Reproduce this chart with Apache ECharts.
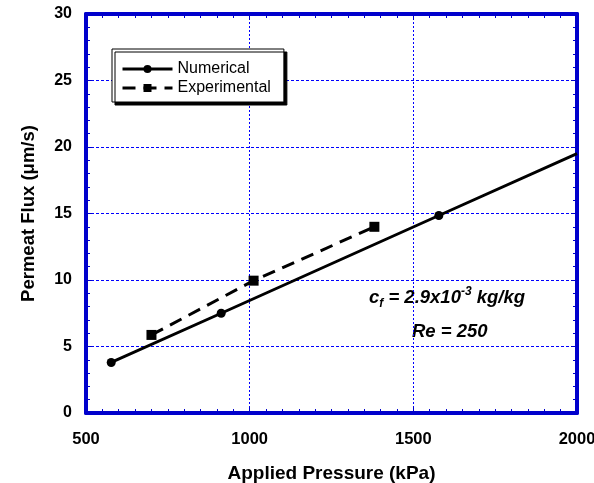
<!DOCTYPE html>
<html>
<head>
<meta charset="utf-8">
<script src="https://cdn.jsdelivr.net/npm/echarts@6/dist/echarts.min.js"></script>
<style>
  html, body { margin: 0; padding: 0; background: #fff; }
  #chart { width: 594px; height: 483px; }
</style>
</head>
<body>
<div id="chart"></div>
<script>
// Permeate flux versus applied pressure
const numericalPressure = [577, 913, 1578, 2000];
const numericalFlux = [3.8, 7.5, 14.85, 19.5];
const experimentalPressure = [700, 1012, 1381];
const experimentalFlux = [5.87, 9.95, 14.0];

const FRAME = '#0000cc';
const GRID = '#0000ff';
const FONT = '"Liberation Sans", Arial, sans-serif';

const chart = echarts.init(document.getElementById('chart'));

const numericalData = numericalPressure.map((p, i) => {
  const pt = { value: [p, numericalFlux[i]] };
  // last point only carries the line out to the frame edge
  if (i === numericalPressure.length - 1) pt.symbol = 'none';
  return pt;
});
const experimentalData = experimentalPressure.map((p, i) => [p, experimentalFlux[i]]);

// unlabeled top/right axes that close the frame and carry inward ticks
const frameAxis = (pos, min, max, interval, minorSplit) => ({
  type: 'value',
  position: pos,
  min, max, interval,
  axisLine: { show: true, onZero: false, lineStyle: { color: FRAME, width: 4 } },
  axisTick: { show: true, inside: true, length: 6, lineStyle: { color: FRAME, width: 1 } },
  minorTick: { show: true, splitNumber: minorSplit, length: 4, lineStyle: { color: FRAME, width: 1 } },
  splitLine: { show: false },
  axisLabel: { show: false }
});

chart.setOption({
  animation: false,
  backgroundColor: '#fff',
  grid: { left: 86, right: 17, top: 14, bottom: 70, outerBoundsMode: 'none', containLabel: false },
  legend: {
    orient: 'vertical',
    left: 112, top: 49,
    padding: [12, 13, 6, 9],
    itemGap: 3,
    itemWidth: 50,
    itemHeight: 10,
    backgroundColor: '#fff',
    borderColor: '#000',
    borderWidth: 1,
    borderRadius: 0,
    shadowColor: '#000',
    shadowBlur: 0,
    shadowOffsetX: 3,
    shadowOffsetY: 3,
    textStyle: { fontFamily: FONT, fontSize: 16, color: '#000' },
    lineStyle: { width: 3 },
    data: ['Numerical', 'Experimental']
  },
  xAxis: [
    {
      type: 'value',
      min: 500, max: 2000, interval: 500,
      name: 'Applied Pressure (kPa)',
      nameLocation: 'middle',
      nameGap: 51,
      nameTextStyle: { fontFamily: FONT, fontSize: 19, fontWeight: 'bold', color: '#000' },
      axisLine: { show: true, onZero: false, lineStyle: { color: FRAME, width: 4 } },
      axisTick: { show: true, inside: true, length: 6, lineStyle: { color: FRAME, width: 1 } },
      minorTick: { show: true, splitNumber: 10, length: 4, lineStyle: { color: FRAME, width: 1 } },
      splitLine: { show: true, lineStyle: { color: GRID, width: 1, type: [2, 2] } },
      axisLabel: {
        margin: 18,
        formatter: v => String(v),
        fontFamily: FONT, fontSize: 16.5, fontWeight: 'bold', color: '#000'
      }
    },
    frameAxis('top', 500, 2000, 500, 10)
  ],
  yAxis: [
    {
      type: 'value',
      min: 0, max: 30, interval: 5,
      name: 'Permeat Flux (\u03bcm/s)',
      nameLocation: 'middle',
      nameGap: 48,
      nameTextStyle: { fontFamily: FONT, fontSize: 18.5, fontWeight: 'bold', color: '#000' },
      axisLine: { show: true, onZero: false, lineStyle: { color: FRAME, width: 4 } },
      axisTick: { show: true, inside: true, length: 6, lineStyle: { color: FRAME, width: 1 } },
      minorTick: { show: true, splitNumber: 5, length: 4, lineStyle: { color: FRAME, width: 1 } },
      splitLine: { show: true, lineStyle: { color: GRID, width: 1, type: [3, 2] } },
      axisLabel: { margin: 14, fontFamily: FONT, fontSize: 16, fontWeight: 'bold', color: '#000' }
    },
    frameAxis('right', 0, 30, 5, 5)
  ],
  series: [
    {
      name: 'Numerical',
      type: 'line',
      data: numericalData,
      symbol: 'circle',
      symbolSize: 9,
      itemStyle: { color: '#000' },
      lineStyle: { color: '#000', width: 3 },
      z: 5
    },
    {
      name: 'Experimental',
      type: 'line',
      data: experimentalData,
      symbol: 'rect',
      symbolSize: 10,
      itemStyle: { color: '#000' },
      lineStyle: { color: '#000', width: 3, type: [13, 8] },
      z: 5
    }
  ],
  graphic: [
    {
      type: 'text',
      left: 369, top: 286,
      style: {
        text: '{b|c}{s|f}{b| = 2.9x10}{p|-3}{b| kg/kg}',
        rich: {
          b: { fontFamily: FONT, fontSize: 18.5, fontWeight: 'bold', fontStyle: 'italic', fill: '#000' },
          s: { fontFamily: FONT, fontSize: 12, fontWeight: 'bold', fontStyle: 'italic', fill: '#000', verticalAlign: 'bottom', padding: [12, 0, 0, 0] },
          p: { fontFamily: FONT, fontSize: 12, fontWeight: 'bold', fontStyle: 'italic', fill: '#000', verticalAlign: 'top', padding: [0, 0, 10, 0] }
        }
      }
    },
    {
      type: 'text',
      left: 412, top: 322,
      style: {
        text: 'Re = 250',
        fontFamily: FONT, fontSize: 18.5, fontWeight: 'bold', fontStyle: 'italic', fill: '#000'
      }
    }
  ]
});
</script>
</body>
</html>
